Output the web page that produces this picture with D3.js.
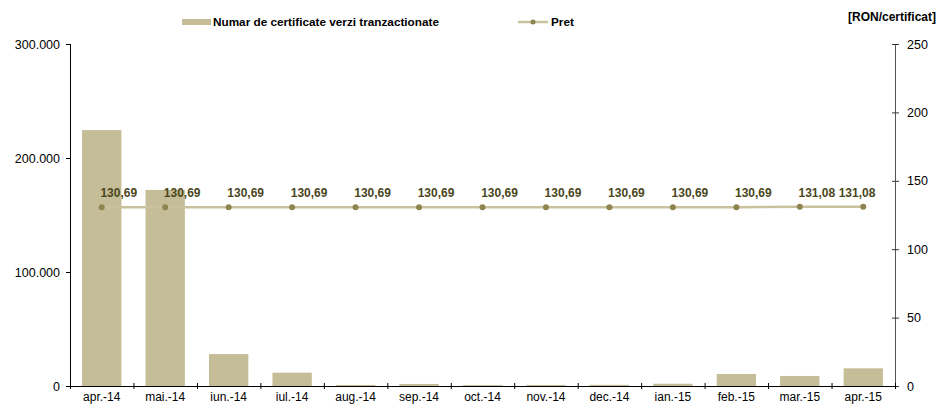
<!DOCTYPE html>
<html>
<head>
<meta charset="utf-8">
<script src="https://cdn.jsdelivr.net/npm/d3@7"></script>
<style>
  body { margin: 0; background: #fff; }
  svg { font-family: Arial, "Liberation Sans", sans-serif; display: block; }
</style>
</head>
<body>
<div id="graph"></div>
<script>
// data
const months = ['apr.-14', 'mai.-14', 'iun.-14', 'iul.-14', 'aug.-14', 'sep.-14', 'oct.-14',
  'nov.-14', 'dec.-14', 'ian.-15', 'feb.-15', 'mar.-15', 'apr.-15']
const volumes = [224500, 172000, 28000, 11700, 900, 1800, 800, 900, 1000, 2000, 10500, 8800, 15500]
const prices = [130.69, 130.69, 130.69, 130.69, 130.69, 130.69, 130.69, 130.69, 130.69, 130.69, 130.69, 131.08, 131.08]
const leftTicks = [0, 100000, 200000, 300000]
const rightTicks = [0, 50, 100, 150, 200, 250]
const barName = 'Numar de certificate verzi tranzactionate'
const lineName = 'Pret'
const unitLabel = '[RON/certificat]'

const margin = {top: 44, right: 44, bottom: 22, left: 70}
const width = 939 - margin.left - margin.right
const height = 408 - margin.top - margin.bottom

const barColor = '#c5bd97'
const lineColor = '#c9c29e'
const dotColor = '#8e844f'
const labelColor = '#4b471c'

const ro = d3.formatLocale({decimal: ',', thousands: '.', grouping: [3], currency: ['', '']})
const fmtInt = ro.format(',d')
const fmtPrice = ro.format('.2f')

const root = d3.select('#graph').append('svg')
  .attr('width', 939)
  .attr('height', 408)

const svg = root.append('g')
  .attr('transform', `translate(${margin.left},${margin.top})`)

const x = d3.scaleBand()
  .domain(months)
  .range([0, width])
  .paddingInner(0.38)
  .paddingOuter(0.19)

const xEdge = d3.scaleLinear().domain([0, months.length]).range([0, width])

const yL = d3.scaleLinear().domain([0, 300000]).range([height, 0])
const yR = d3.scaleLinear().domain([0, 250]).range([height, 0])

// bars
svg.selectAll('.bar')
  .data(volumes)
  .enter()
  .append('rect')
  .attr('class', 'bar')
  .attr('x', (d, i) => x(months[i]))
  .attr('y', d => yL(d))
  .attr('width', x.bandwidth())
  .attr('height', d => height - yL(d))
  .attr('fill', barColor)

// left axis
const leftAxis = svg.append('g')
  .call(d3.axisLeft(yL).tickValues(leftTicks).tickFormat(fmtInt).tickSize(4).tickPadding(6))
leftAxis.select('.domain').attr('stroke', '#000')
leftAxis.selectAll('.tick line').attr('x1', -4).attr('x2', 1)
leftAxis.selectAll('text').attr('font-size', '12.5px').attr('fill', '#000').attr('font-family', null)

// right axis
const rightAxis = svg.append('g')
  .attr('transform', `translate(${width},0)`)
  .call(d3.axisRight(yR).tickValues(rightTicks).tickSize(4).tickPadding(8))
rightAxis.select('.domain').attr('stroke', '#555')
rightAxis.selectAll('.tick line').attr('x1', -3).attr('x2', 4).attr('stroke', '#333')
rightAxis.selectAll('text').attr('font-size', '12.5px').attr('fill', '#000').attr('font-family', null)

// x axis: ticks on category edges, labels in the middle
const xAxis = svg.append('g')
  .attr('transform', `translate(0,${height})`)
  .call(d3.axisBottom(xEdge).tickValues(d3.range(months.length + 1)).tickFormat('').tickSize(3))
xAxis.select('.domain').attr('stroke', '#000')
xAxis.selectAll('.tick line').attr('y1', -3).attr('y2', 3)

const xLabels = svg.append('g')
  .attr('transform', `translate(0,${height})`)
  .call(d3.axisBottom(x).tickSize(0).tickPadding(6))
xLabels.select('.domain').remove()
xLabels.selectAll('text').attr('font-size', '12px').attr('fill', '#000').attr('font-family', null)

// price line
const cx = (d, i) => x(months[i]) + x.bandwidth() / 2
const priceLine = d3.line()
  .x(cx)
  .y(d => yR(d))

svg.append('path')
  .datum(prices)
  .attr('d', priceLine)
  .style('fill', 'none')
  .style('stroke', lineColor)
  .style('stroke-width', '2.5px')

svg.selectAll('.dot')
  .data(prices)
  .enter()
  .append('circle')
  .attr('class', 'dot')
  .attr('cx', cx)
  .attr('cy', d => yR(d))
  .attr('r', 3)
  .attr('fill', dotColor)

// value labels, kept inside the right axis
svg.selectAll('.plabel')
  .data(prices)
  .enter()
  .append('text')
  .attr('class', 'plabel')
  .attr('x', (d, i) => Math.min(cx(d, i) + 17, width - 38))
  .attr('y', d => yR(d) - 10)
  .attr('text-anchor', 'middle')
  .attr('font-size', '12px')
  .attr('font-weight', 'bold')
  .attr('fill', labelColor)
  .text(d => fmtPrice(d))

// legend
const legend = root.append('g')
legend.append('rect')
  .attr('x', 182).attr('y', 19).attr('width', 29).attr('height', 6)
  .attr('fill', barColor)
legend.append('text')
  .attr('x', 213).attr('y', 26)
  .attr('font-size', '11.75px').attr('font-weight', 'bold')
  .text(barName)

legend.append('line')
  .attr('x1', 518).attr('x2', 548).attr('y1', 22).attr('y2', 22)
  .attr('stroke', lineColor).attr('stroke-width', 2.5)
legend.append('circle')
  .attr('cx', 533).attr('cy', 22).attr('r', 2.5)
  .attr('fill', dotColor)
legend.append('text')
  .attr('x', 551).attr('y', 26)
  .attr('font-size', '11.75px').attr('font-weight', 'bold')
  .text(lineName)

// unit label of the right axis
root.append('text')
  .attr('x', 936).attr('y', 21)
  .attr('text-anchor', 'end')
  .attr('font-size', '12px').attr('font-weight', 'bold')
  .text(unitLabel)
</script>
</body>
</html>
